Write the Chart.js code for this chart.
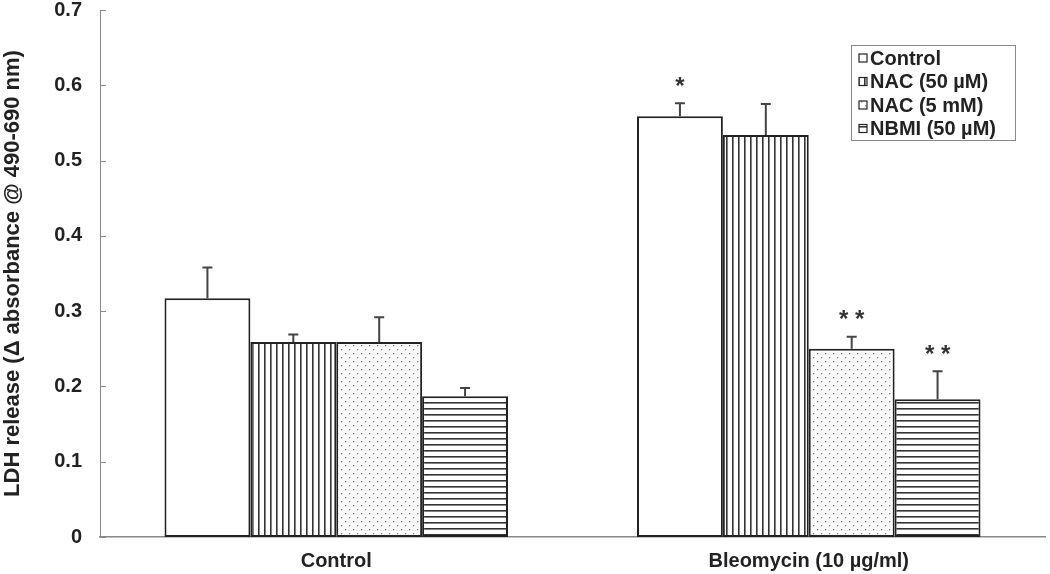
<!DOCTYPE html>
<html>
<head>
<meta charset="utf-8">
<script src="https://cdn.jsdelivr.net/npm/chart.js@4"></script>
<style>
  html, body { margin: 0; padding: 0; background: #fff; }
  #wrap { width: 1050px; height: 574px; }
</style>
</head>
<body>
<div id="wrap"><canvas id="ldhChart" width="1050" height="574"></canvas></div>
<script>
// data
const categories = ['Control', 'Bleomycin (10 µg/ml)'];
const seriesLabels = ['Control', 'NAC (50 µM)', 'NAC (5 mM)', 'NBMI (50 µM)'];
const controlVals = [0.317, 0.559];
const nac50Vals = [0.259, 0.534];
const nac5Vals = [0.259, 0.250];
const nbmiVals = [0.187, 0.183];
const controlErr = [0.041, 0.017];
const nac50Err = [0.010, 0.041];
const nac5Err = [0.033, 0.016];
const nbmiErr = [0.011, 0.037];
const controlStars = ['', '*'];
const nac50Stars = ['', ''];
const nac5Stars = ['', '**'];
const nbmiStars = ['', '**'];
const yTicks = [0, 0.1, 0.2, 0.3, 0.4, 0.5, 0.6, 0.7];

const INK = '#222';
const FONT = '"Liberation Sans", Arial, sans-serif';

// fill patterns
function makePattern(kind) {
    const c = document.createElement('canvas');
    const x = c.getContext('2d');
    if (kind === 'vert') {
        c.width = 6; c.height = 6;
        x.fillStyle = '#fff'; x.fillRect(0, 0, 6, 6);
        x.fillStyle = '#333'; x.fillRect(0, 0, 1.6, 6);
    } else if (kind === 'horiz') {
        c.width = 6; c.height = 6;
        x.fillStyle = '#fff'; x.fillRect(0, 0, 6, 6);
        x.fillStyle = '#333'; x.fillRect(0, 0, 6, 1.6);
    } else if (kind === 'dots') {
        c.width = 8; c.height = 8;
        x.fillStyle = '#fff'; x.fillRect(0, 0, 8, 8);
        x.fillStyle = '#777';
        x.fillRect(1, 1, 1.3, 1.3);
        x.fillRect(5, 5, 1.3, 1.3);
    } else {
        c.width = 4; c.height = 4;
        x.fillStyle = '#fff'; x.fillRect(0, 0, 4, 4);
    }
    return x.createPattern(c, 'repeat');
}

const fills = [makePattern('plain'), makePattern('vert'), makePattern('dots'), makePattern('horiz')];
const allVals = [controlVals, nac50Vals, nac5Vals, nbmiVals];
const allErr = [controlErr, nac50Err, nac5Err, nbmiErr];
const allStars = [controlStars, nac50Stars, nac5Stars, nbmiStars];

// error bars, stars, inward y ticks and legend box
const extrasPlugin = {
    id: 'extras',
    afterDatasetsDraw(chart) {
        const ctx = chart.ctx;
        const y = chart.scales.y;
        ctx.save();
        chart.data.datasets.forEach((ds, i) => {
            const meta = chart.getDatasetMeta(i);
            meta.data.forEach((bar, j) => {
                const top = y.getPixelForValue(allVals[i][j] + allErr[i][j]);
                ctx.strokeStyle = '#444';
                ctx.lineWidth = 2;
                ctx.beginPath();
                ctx.moveTo(bar.x, bar.y);
                ctx.lineTo(bar.x, top);
                ctx.moveTo(bar.x - 5, top);
                ctx.lineTo(bar.x + 5, top);
                ctx.stroke();
                const s = allStars[i][j];
                if (s) {
                    ctx.fillStyle = '#333';
                    ctx.font = 'bold 24px ' + FONT;
                    ctx.textAlign = 'center';
                    ctx.textBaseline = 'middle';
                    ctx.fillText(s.split('').join(' '), bar.x, top - 16);
                }
            });
        });
        // inward tick marks on y axis
        ctx.strokeStyle = '#888';
        ctx.lineWidth = 1;
        const left = chart.chartArea.left;
        yTicks.forEach(v => {
            const py = Math.round(y.getPixelForValue(v)) + 0.5;
            ctx.beginPath();
            ctx.moveTo(left, py);
            ctx.lineTo(left + 6, py);
            ctx.stroke();
        });
        // legend
        const lx = 851, ly = 45, lw = 164, lh = 95;
        ctx.fillStyle = '#fff';
        ctx.fillRect(lx, ly, lw, lh);
        ctx.strokeStyle = '#888';
        ctx.lineWidth = 1;
        ctx.strokeRect(lx + 0.5, ly + 0.5, lw, lh);
        ctx.font = 'bold 20px ' + FONT;
        ctx.textAlign = 'left';
        ctx.textBaseline = 'middle';
        seriesLabels.forEach((lab, k) => {
            const cy = ly + 13 + k * 23.5;
            ctx.fillStyle = fills[k];
            ctx.fillRect(859, cy - 4, 8, 8);
            ctx.strokeStyle = INK;
            ctx.lineWidth = 1.2;
            ctx.strokeRect(859, cy - 4, 8, 8);
            ctx.fillStyle = INK;
            ctx.fillText(lab, 870, cy + 1);
        });
        ctx.restore();
    }
};

new Chart(document.getElementById('ldhChart'), {
    type: 'bar',
    data: {
        labels: categories,
        datasets: seriesLabels.map((lab, i) => ({
            label: lab,
            data: allVals[i],
            backgroundColor: fills[i],
            borderColor: INK,
            borderWidth: 2,
            borderSkipped: false,
            categoryPercentage: 0.727,
            barPercentage: 1.0
        }))
    },
    options: {
        responsive: false,
        animation: false,
        layout: { padding: { top: 0, right: 5, left: 0, bottom: 0 } },
        plugins: {
            legend: { display: false },
            tooltip: { enabled: false }
        },
        scales: {
            x: {
                grid: { display: false, drawTicks: false },
                border: { color: '#888', width: 1.5 },
                ticks: {
                    color: INK,
                    font: { family: FONT, size: 20, weight: 'bold' },
                    padding: 12
                },
                afterFit(scale) { scale.height = 37; }
            },
            y: {
                min: 0,
                max: 0.7,
                afterBuildTicks(scale) { scale.ticks = yTicks.map(v => ({ value: v })); },
                grid: { display: false, drawTicks: false },
                border: { color: '#888', width: 1 },
                ticks: {
                    color: INK,
                    font: { family: FONT, size: 20, weight: 'bold' },
                    padding: 18,
                    callback: v => (v === 0 ? '0' : v.toFixed(1))
                },
                title: {
                    display: true,
                    text: 'LDH release (Δ absorbance @ 490-690 nm)',
                    color: INK,
                    font: { family: FONT, size: 22, weight: 'bold' },
                    padding: { top: 0, bottom: 0 }
                },
                afterFit(scale) {
                    scale.width = 100;
                    scale.paddingTop = 10;
                    scale.paddingBottom = 0;
                }
            }
        }
    },
    plugins: [extrasPlugin]
});
</script>
</body>
</html>
